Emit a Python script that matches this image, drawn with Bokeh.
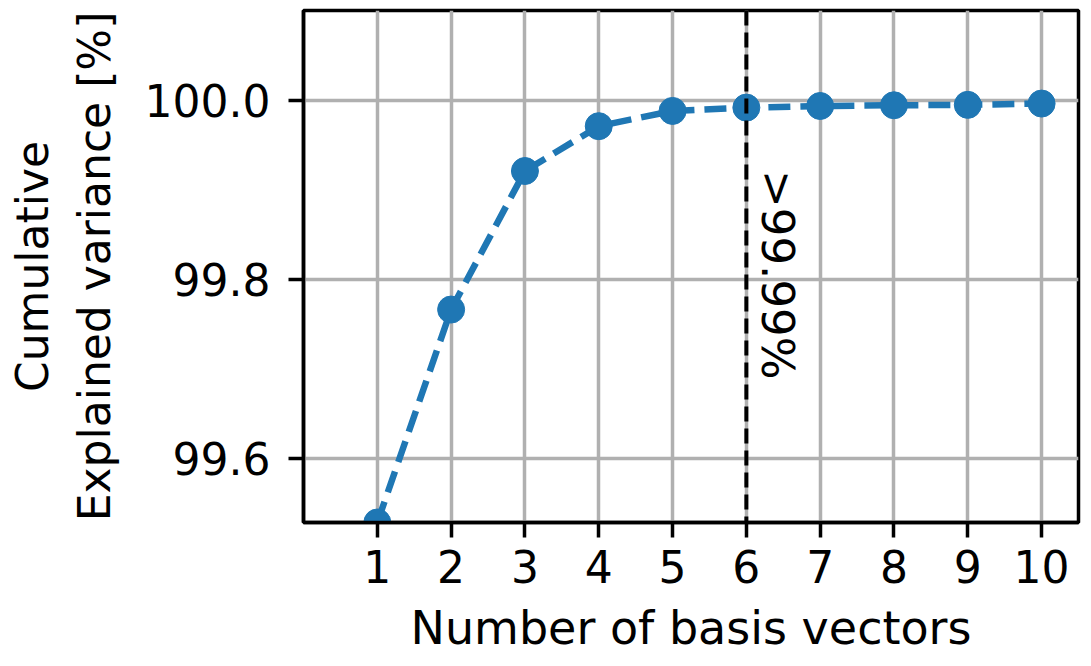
import math
from bokeh.plotting import figure
from bokeh.models import ColumnDataSource, FixedTicker, PrintfTickFormatter, Span, Label, Range1d
from bokeh.embed import file_html
from bokeh.resources import INLINE

# ---- data ----
n_vectors = [1, 2, 3, 4, 5, 6, 7, 8, 9, 10]
cum_variance = [99.529, 99.7665, 99.921, 99.971, 99.988, 99.9917, 99.9935, 99.9943, 99.9948, 99.9962]
x_ticks = [1, 2, 3, 4, 5, 6, 7, 8, 9, 10]
y_ticks = [99.6, 99.8, 100.0]
threshold_n = 6
threshold_text = ">99.99%"
x_title = "Number of basis vectors"
y_title = "Cumulative\nExplained variance [%]"

FONT = "DejaVu Sans"
BLUE = "#1f77b4"

p = figure(width=1091, height=666, output_backend="svg", toolbar_location=None,
           x_range=Range1d(0, 10.5), y_range=Range1d(99.529, 100.1),
           min_border_left=303, min_border_right=13, min_border_top=10, min_border_bottom=144)
p.background_fill_color = "white"
p.border_fill_color = "white"
p.outline_line_color = "black"
p.outline_line_width = 3.5

src = ColumnDataSource(dict(x=n_vectors, y=cum_variance))
p.line("x", "y", source=src, line_color=BLUE, line_width=6.5, line_dash="22 10")
p.scatter("x", "y", source=src, size=27, fill_color=BLUE, line_color=BLUE)

span = Span(location=threshold_n, dimension="height", line_color="black",
            line_width=4, line_dash="15 7")
p.add_layout(span)

lab = Label(x=threshold_n, y=99.922, x_offset=31, text=threshold_text,
            angle=-math.pi / 2, angle_units="rad",
            text_align="left", text_baseline="alphabetic",
            text_font=FONT, text_font_size="45px", text_color="black")
p.add_layout(lab)

for ax in (p.xaxis, p.yaxis):
    ax.axis_line_color = "black"
    ax.axis_line_width = 3.5
    ax.major_tick_line_color = "black"
    ax.major_tick_line_width = 3.5
    ax.major_tick_out = 15
    ax.major_tick_in = 0
    ax.minor_tick_line_color = None
    ax.major_label_text_font = FONT
    ax.major_label_text_font_size = "44px"
    ax.major_label_text_color = "black"
    ax.axis_label_text_font = FONT
    ax.axis_label_text_font_style = "normal"
    ax.axis_label_text_color = "black"

p.xaxis.axis_label_text_font_size = "46px"
p.yaxis.axis_label_text_font_size = "44px"
p.xaxis.ticker = FixedTicker(ticks=x_ticks)
p.yaxis.ticker = FixedTicker(ticks=y_ticks)
p.yaxis.formatter = PrintfTickFormatter(format="%.1f")
p.xaxis.axis_label = x_title
p.yaxis.axis_label = y_title
p.xaxis.major_label_standoff = 12
p.yaxis.major_label_standoff = 18
p.xaxis.axis_label_standoff = 15
p.yaxis.axis_label_standoff = 22

p.xgrid.ticker = FixedTicker(ticks=x_ticks)
p.ygrid.ticker = FixedTicker(ticks=y_ticks)
for g in (p.xgrid, p.ygrid):
    g.grid_line_color = "#b0b0b0"
    g.grid_line_width = 3.5

open("out.html", "w").write(file_html(p, INLINE))
